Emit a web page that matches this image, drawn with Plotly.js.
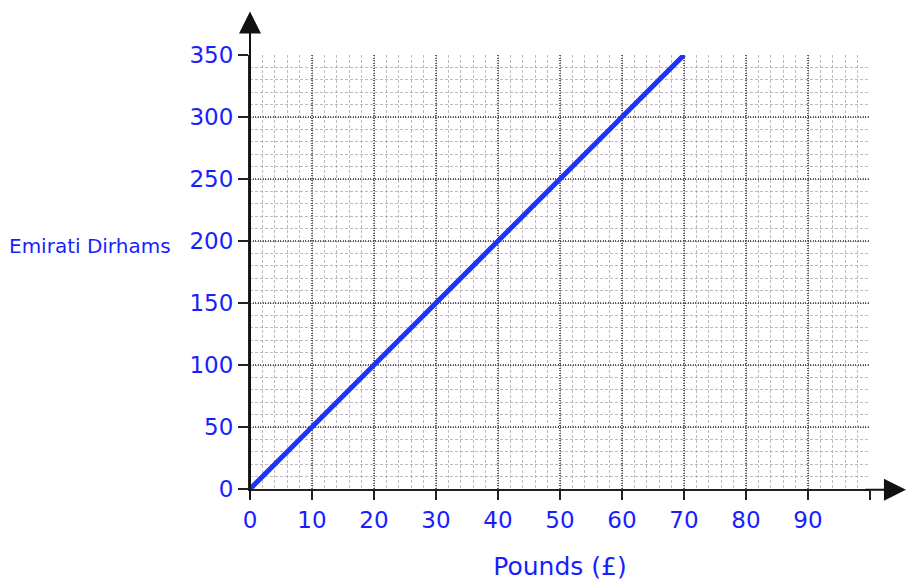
<!DOCTYPE html>
<html>
<head>
<meta charset="utf-8">
<script src="https://cdn.plot.ly/plotly-3.0.1.min.js"></script>
<style>html,body{margin:0;padding:0;background:#fff;}#chart{width:907px;height:583px;}</style>
</head>
<body>
<div id="chart"></div>
<script>
var pounds = [0, 70];
var dirhams = [0, 350];
var xTickVals = [0, 10, 20, 30, 40, 50, 60, 70, 80, 90, 100];
var xTickText = ['0', '10', '20', '30', '40', '50', '60', '70', '80', '90', ''];
var yTickVals = [0, 50, 100, 150, 200, 250, 300, 350];
var yTickText = ['0', '50', '100', '150', '200', '250', '300', '350'];

var blue = 'rgb(25,30,255)';
var fontFam = 'DejaVu Sans, sans-serif';

var trace = {
  x: pounds, y: dirhams, mode: 'lines', type: 'scatter',
  line: {color: 'rgb(30,50,250)', width: 5},
  hoverinfo: 'skip', cliponaxis: false
};

var layout = {
  width: 907, height: 583,
  margin: {l: 250, r: 37, t: 54.5, b: 93.5},
  paper_bgcolor: '#fff', plot_bgcolor: '#fff',
  showlegend: false,
  font: {family: fontFam, color: blue},
  xaxis: {
    range: [0, 100], tickmode: 'array', tickvals: xTickVals, ticktext: xTickText,
    showgrid: true, gridcolor: 'rgba(70,70,70,0.85)', griddash: '1px,1.5px', gridwidth: 1.3,
    minor: {dtick: 2, showgrid: true, gridcolor: 'rgba(160,160,160,0.7)', griddash: '3px,2px', gridwidth: 1},
    zeroline: false, showline: true, linecolor: '#222', linewidth: 2,
    ticks: 'outside', ticklen: 9, tickwidth: 2, tickcolor: '#222',
    tickfont: {size: 23, color: blue, family: fontFam},
    title: {text: 'Pounds (£)', font: {size: 25, color: blue, family: fontFam}, standoff: 26},
    fixedrange: true
  },
  yaxis: {
    range: [0, 350], tickmode: 'array', tickvals: yTickVals, ticktext: yTickText,
    showgrid: true, gridcolor: 'rgba(70,70,70,0.85)', griddash: '1px,1.5px', gridwidth: 1.3,
    minor: {dtick: 10, showgrid: true, gridcolor: 'rgba(160,160,160,0.7)', griddash: '3px,2px', gridwidth: 1},
    zeroline: false, showline: true, linecolor: '#222', linewidth: 2,
    ticks: 'outside', ticklen: 10, tickwidth: 2, tickcolor: '#222',
    tickfont: {size: 23, color: blue, family: fontFam},
    fixedrange: true
  },
  annotations: [
    {xref: 'paper', yref: 'paper', x: 1.058, y: -0.002, ax: 0.99, ay: -0.002, axref: 'paper', ayref: 'paper',
     showarrow: true, arrowhead: 2, arrowsize: 2.2, arrowwidth: 2, arrowcolor: '#111', text: ''},
    {xref: 'paper', yref: 'paper', x: 0, y: 1.1, ax: 0, ay: -0.025, axref: 'paper', ayref: 'paper',
     showarrow: true, arrowhead: 2, arrowsize: 2.2, arrowwidth: 2, arrowcolor: '#111', text: ''},
    {xref: 'paper', yref: 'y', x: -0.392, y: 196, xanchor: 'left', yanchor: 'middle', showarrow: false,
     text: 'Emirati Dirhams', font: {size: 20, color: blue, family: fontFam}}
  ]
};

Plotly.newPlot('chart', [trace], layout, {displayModeBar: false, staticPlot: true});
</script>
</body>
</html>
